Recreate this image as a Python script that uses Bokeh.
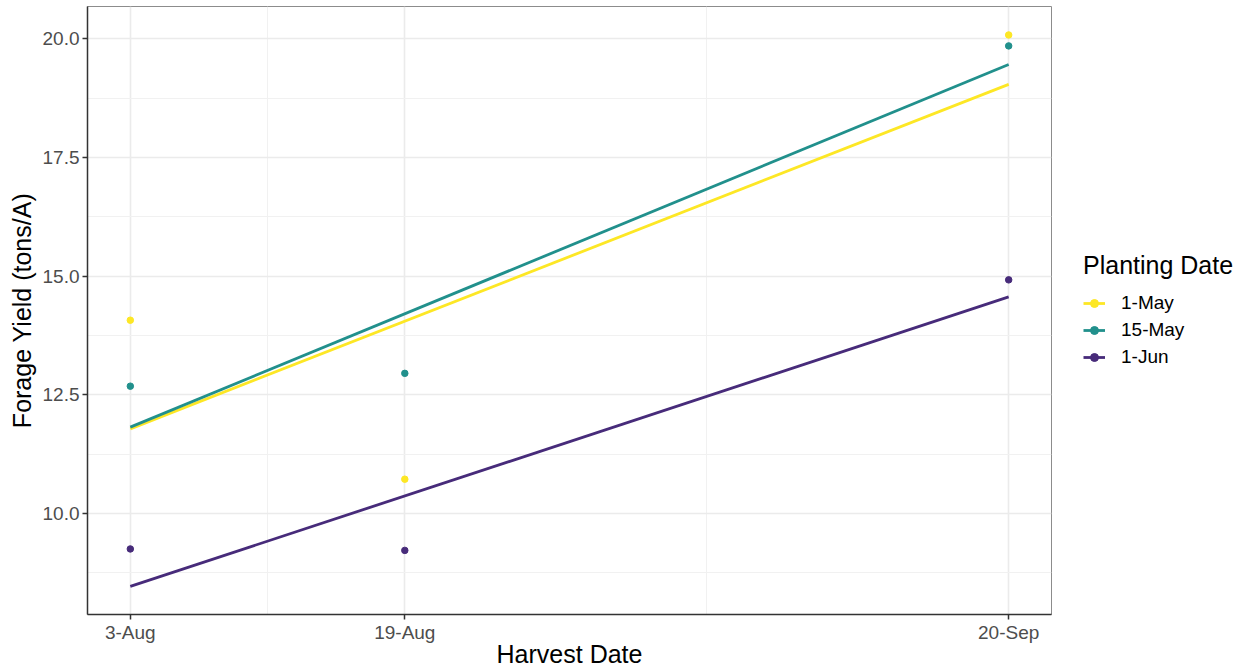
import numpy as np
from bokeh.plotting import figure
from bokeh.layouts import row
from bokeh.models import FixedTicker, NumeralTickFormatter, Legend, LegendItem, Range1d
from bokeh.embed import file_html
from bokeh.resources import INLINE

# ---- data ----
harvest_labels = ["3-Aug", "19-Aug", "20-Sep"]
harvest_x = [1.0, 2.0, 4.2]          # relative harvest position on the x scale
planting_dates = ["1-May", "15-May", "1-Jun"]
yield_1may = [14.07, 10.72, 20.08]
yield_15may = [12.68, 12.95, 19.85]
yield_1jun = [9.25, 9.22, 14.92]
colors = ["#FDE725", "#21908C", "#472B7A"]
y_ticks = [10.0, 12.5, 15.0, 17.5, 20.0]
y_minor = [8.75, 11.25, 13.75, 16.25, 18.75]
x_minor = [1.5, 3.1]

FONT = "Liberation Sans"
H = 670

p = figure(width=1055, height=H, output_backend="svg", toolbar_location=None,
           x_range=Range1d(0.844, 4.356), y_range=Range1d(7.869, 20.68),
           min_border_left=87, min_border_right=4, min_border_top=6, min_border_bottom=55)
p.background_fill_color = "white"
p.border_fill_color = "white"
p.outline_line_color = "#8C8C8C"
p.outline_line_width = 1

# grids
p.xgrid.ticker = FixedTicker(ticks=harvest_x, minor_ticks=x_minor)
p.ygrid.ticker = FixedTicker(ticks=y_ticks, minor_ticks=y_minor)
for g in (p.xgrid[0], p.ygrid[0]):
    g.grid_line_color = "#EBEBEB"
    g.grid_line_width = 1.6
    g.minor_grid_line_color = "#F1F1F1"
    g.minor_grid_line_width = 1

# axes
p.xaxis.ticker = FixedTicker(ticks=harvest_x)
p.xaxis.major_label_overrides = {x: lab for x, lab in zip(harvest_x, harvest_labels)}
p.yaxis.ticker = FixedTicker(ticks=y_ticks)
p.yaxis.formatter = NumeralTickFormatter(format="0.0")
for ax in (p.xaxis[0], p.yaxis[0]):
    ax.axis_line_color = "#333333"
    ax.axis_line_width = 1.5
    ax.major_tick_line_color = "#333333"
    ax.major_tick_line_width = 1.5
    ax.major_tick_out = 5
    ax.major_tick_in = 0
    ax.minor_tick_line_color = None
    ax.major_label_text_font = FONT
    ax.major_label_text_font_size = "19px"
    ax.major_label_text_color = "#4D4D4D"
    ax.axis_label_text_font = FONT
    ax.axis_label_text_font_size = "25px"
    ax.axis_label_text_font_style = "normal"
    ax.axis_label_text_color = "black"
p.xaxis.axis_label = "Harvest Date"
p.yaxis.axis_label = "Forage Yield (tons/A)"
p.xaxis.major_label_standoff = 2
p.xaxis.axis_label_standoff = -6
p.yaxis.major_label_standoff = 3
p.yaxis.axis_label_standoff = 4

# legend panel (separate figure to the right of the plot); its ranges lie
# away from the data so the proxy renderers only appear as legend keys
q = figure(width=1244 - 1055, height=H, output_backend="svg", toolbar_location=None,
           x_range=Range1d(100, 101), y_range=Range1d(100, 101),
           x_axis_location=None, y_axis_location=None,
           min_border_left=0, min_border_right=0, min_border_top=0, min_border_bottom=0)
q.outline_line_color = None
q.xgrid.visible = False
q.ygrid.visible = False
q.background_fill_color = "white"
q.border_fill_color = "white"

items = []
xs = np.array(harvest_x)
for name, ys, col in zip(planting_dates, [yield_1may, yield_15may, yield_1jun], colors):
    ys = np.array(ys)
    slope, intercept = np.polyfit(xs, ys, 1)
    fx = np.array([xs.min(), xs.max()])
    fy = intercept + slope * fx
    p.scatter(xs, ys, size=6.5, color=col, line_color=col)
    p.line(fx, fy, line_width=2.8, color=col)
    l_line = q.line(fx, fy, line_width=2.8, color=col)
    l_pts = q.scatter(xs, ys, size=6.5, color=col, line_color=col)
    items.append(LegendItem(label=name, renderers=[l_line, l_pts]))

legend = Legend(items=items, title="Planting Date", location=(28, H - 367 - 57),
                title_text_font=FONT, title_text_font_size="25px", title_text_color="black",
                title_text_font_style="normal", title_standoff=12,
                label_text_font=FONT, label_text_font_size="19px", label_text_color="black",
                glyph_width=22, glyph_height=20, label_height=20, label_standoff=16,
                spacing=5, padding=0, margin=0,
                border_line_color=None, background_fill_alpha=0)
q.add_layout(legend, "center")

layout = row(p, q, spacing=0)
open("out.html", "w").write(file_html(layout, INLINE))
